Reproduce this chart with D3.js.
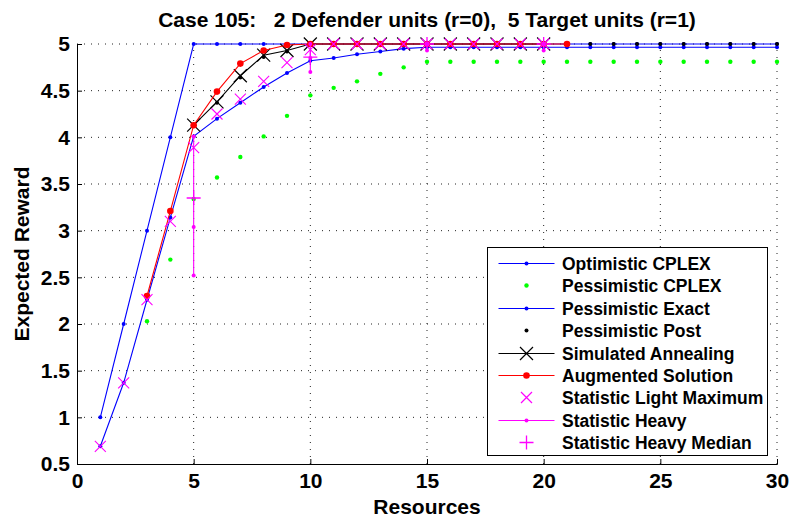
<!DOCTYPE html>
<html>
<head>
<meta charset="utf-8">
<script src="https://cdn.jsdelivr.net/npm/d3@7"></script>
<style>
  body { margin: 0; background: #fff; }
  text { font-family: "Liberation Sans", Arial, Helvetica, sans-serif; font-weight: bold; }
</style>
</head>
<body>
<div id="chart"></div>
<script>
// 資料
var resources = d3.range(1, 31);
var optimisticCplex = [1, 2, 3, 4, 5, 5, 5, 5, 5, 5, 5, 5, 5, 5, 5, 5, 5, 5, 5, 5, 5, 5, 5, 5, 5, 5, 5, 5, 5, 5];
var pessCplexX = d3.range(3, 31);
var pessimisticCplex = [2.03, 2.69, 3.34, 3.57, 3.79, 4.01, 4.23, 4.45, 4.53, 4.60, 4.68, 4.75, 4.81, 4.81, 4.81, 4.81, 4.81, 4.81, 4.81, 4.81, 4.81, 4.81, 4.81, 4.81, 4.81, 4.81, 4.81, 4.81];
var pessimisticExact = [0.69, 1.37, 2.26, 3.14, 4.01, 4.20, 4.37, 4.54, 4.69, 4.82, 4.85, 4.89, 4.92, 4.95, 4.965, 4.965, 4.965, 4.965, 4.965, 4.965, 4.965, 4.965, 4.965, 4.965, 4.965, 4.965, 4.965, 4.965, 4.965, 4.965];
var postX = d3.range(5, 31);
var pessimisticPost = [4.13, 4.37, 4.64, 4.86, 4.92, 5, 5, 5, 5, 5, 5, 5, 5, 5, 5, 5, 5, 5, 5, 5, 5, 5, 5, 5, 5, 5];
var saX = d3.range(5, 21);
var simulatedAnnealing = [4.13, 4.38, 4.66, 4.88, 4.93, 5, 5, 5, 5, 5, 5, 5, 5, 5, 5, 5];
var augX = d3.range(3, 22);
var augmentedSolution = [2.30, 3.21, 4.13, 4.49, 4.79, 4.93, 4.99, 5, 5, 5, 5, 5, 5, 5, 5, 5, 5, 5, 5];
var lightX = d3.range(1, 21);
var lightMaximum = [0.69, 1.37, 2.26, 3.10, 3.89, 4.25, 4.41, 4.60, 4.80, 4.94, 5, 5, 5, 5, 5, 5, 5, 5, 5, 5];
var heavyX = [5, 10, 15, 20];
var heavySamples = [[2.52, 3.04, 4.01], [4.70, 4.85, 5.0], [4.93, 5.0], [4.93, 5.0]];
var heavyMedian = [3.35, 4.86, 5.0, 5.0];

var xTicks = [0, 5, 10, 15, 20, 25, 30];
var yTicks = [0.5, 1, 1.5, 2, 2.5, 3, 3.5, 4, 4.5, 5];
var legendNames = ["Optimistic CPLEX", "Pessimistic CPLEX", "Pessimistic Exact", "Pessimistic Post",
  "Simulated Annealing", "Augmented Solution", "Statistic Light Maximum", "Statistic Heavy", "Statistic Heavy Median"];

var width = 791, height = 522;
var margin = { left: 77, right: 14, top: 44, bottom: 58 };

var svg = d3.select("#chart").append("svg")
  .attr("width", width)
  .attr("height", height);

var x = d3.scaleLinear().domain([0, 30]).range([margin.left, width - margin.right]);
var y = d3.scaleLinear().domain([0.5, 5]).range([height - margin.bottom, margin.top]);

// 格線
svg.append("g").selectAll("line.gx")
  .data(xTicks.slice(1))
  .enter().append("line")
  .attr("x1", d => x(d)).attr("x2", d => x(d))
  .attr("y1", y(0.5)).attr("y2", y(5))
  .attr("stroke", "#222").attr("stroke-width", 1).attr("stroke-dasharray", "1,6");
svg.append("g").selectAll("line.gy")
  .data(yTicks.slice(1))
  .enter().append("line")
  .attr("x1", x(0)).attr("x2", x(30))
  .attr("y1", d => y(d)).attr("y2", d => y(d))
  .attr("stroke", "#222").attr("stroke-width", 1).attr("stroke-dasharray", "1,6");

// 座標軸
var xAxis = d3.axisBottom(x).tickValues(xTicks).tickFormat(d => d).tickSize(-5).tickPadding(9);
var yAxis = d3.axisLeft(y).tickValues(yTicks).tickFormat(d => d).tickSize(-5).tickPadding(7);

svg.append("g")
  .attr("transform", "translate(0," + y(0.5) + ")")
  .call(xAxis)
  .call(g => g.selectAll("text").style("font-size", "21px").style("font-weight", "bold").attr("fill", "#000"));
svg.append("g")
  .attr("transform", "translate(" + x(0) + ",0)")
  .call(yAxis)
  .call(g => g.selectAll("text").style("font-size", "21px").style("font-weight", "bold").attr("fill", "#000"));
svg.selectAll(".domain").attr("stroke", "#000");

// 標題與軸標籤
svg.append("text")
  .attr("x", 427).attr("y", 27)
  .attr("text-anchor", "middle")
  .style("font-size", "21px")
  .attr("xml:space", "preserve")
  .text("Case 105:   2 Defender units (r=0),  5 Target units (r=1)");
svg.append("text")
  .attr("x", x(15)).attr("y", 514)
  .attr("text-anchor", "middle")
  .style("font-size", "21px")
  .text("Resources");
svg.append("text")
  .attr("transform", "translate(29," + y(2.75) + ") rotate(-90)")
  .attr("text-anchor", "middle")
  .style("font-size", "21px")
  .text("Expected Reward");

var line = d3.line().x(d => x(d[0])).y(d => y(d[1]));
function zip(xs, ys) { return xs.map((v, i) => [v, ys[i]]); }

function drawLine(pts, color) {
  svg.append("path").datum(pts)
    .attr("d", line).attr("fill", "none")
    .attr("stroke", color).attr("stroke-width", 1.1);
}
function drawDots(pts, color, r) {
  svg.append("g").selectAll("circle").data(pts)
    .enter().append("circle")
    .attr("cx", d => x(d[0])).attr("cy", d => y(d[1]))
    .attr("r", r).attr("fill", color);
}
function crossPath(s) { return "M" + (-s) + "," + (-s) + "L" + s + "," + s + "M" + (-s) + "," + s + "L" + s + "," + (-s); }
function plusPath(s) { return "M" + (-s) + ",0L" + s + ",0M0," + (-s) + "L0," + s; }
function drawMarks(pts, color, pathStr, w) {
  svg.append("g").selectAll("path").data(pts)
    .enter().append("path")
    .attr("transform", d => "translate(" + x(d[0]) + "," + y(d[1]) + ")")
    .attr("d", pathStr).attr("fill", "none")
    .attr("stroke", color).attr("stroke-width", w);
}

// 各系列
var optPts = zip(resources, optimisticCplex);
drawLine(optPts, "#0000ff"); drawDots(optPts, "#0000ff", 2);
drawDots(zip(pessCplexX, pessimisticCplex), "#00ff00", 2.2);
var exPts = zip(resources, pessimisticExact);
drawLine(exPts, "#0000ff"); drawDots(exPts, "#0000ff", 2);
drawDots(zip(postX, pessimisticPost), "#000", 2);
var saPts = zip(saX, simulatedAnnealing);
drawLine(saPts, "#000"); drawMarks(saPts, "#000", crossPath(6.5), 1.2);
var augPts = zip(augX, augmentedSolution);
drawLine(augPts, "#ff0000"); drawDots(augPts, "#ff0000", 3.3);
drawMarks(zip(lightX, lightMaximum), "#ff00ff", crossPath(5.5), 1.1);
heavyX.forEach(function (hx, i) {
  var pts = heavySamples[i].map(v => [hx, v]);
  drawLine(pts, "#ff00ff"); drawDots(pts, "#ff00ff", 2);
});
drawMarks(zip(heavyX, heavyMedian), "#ff00ff", plusPath(7), 1.3);

// 圖例
var lg = svg.append("g").attr("transform", "translate(487.5,247.5)");
lg.append("rect").attr("width", 280).attr("height", 208)
  .attr("fill", "#fff").attr("stroke", "#000").attr("stroke-width", 1);
var styles = [
  { c: "#0000ff", line: true, m: "dot", r: 2 },
  { c: "#00ff00", line: false, m: "dot", r: 2.2 },
  { c: "#0000ff", line: true, m: "dot", r: 2 },
  { c: "#000", line: false, m: "dot", r: 2 },
  { c: "#000", line: true, m: "x", s: 6.5 },
  { c: "#ff0000", line: true, m: "dot", r: 3.3 },
  { c: "#ff00ff", line: false, m: "x", s: 5.5 },
  { c: "#ff00ff", line: true, m: "dot", r: 2 },
  { c: "#ff00ff", line: false, m: "+", s: 7 }
];
legendNames.forEach(function (name, i) {
  var st = styles[i];
  var row = lg.append("g").attr("transform", "translate(0," + Math.round(16 + i * 22.4) + ")");
  if (st.line) row.append("line").attr("x1", 11).attr("x2", 67).attr("stroke", st.c).attr("stroke-width", 1);
  if (st.m === "dot") row.append("circle").attr("cx", 39).attr("r", st.r).attr("fill", st.c);
  if (st.m === "x") row.append("path").attr("transform", "translate(39,0)").attr("d", crossPath(st.s)).attr("stroke", st.c).attr("stroke-width", 1.2);
  if (st.m === "+") row.append("path").attr("transform", "translate(39,0)").attr("d", plusPath(st.s)).attr("stroke", st.c).attr("stroke-width", 1.3);
  row.append("text").attr("x", 74.5).attr("y", 6)
    .style("font-size", "17.5px").text(name);
});
</script>
</body>
</html>
